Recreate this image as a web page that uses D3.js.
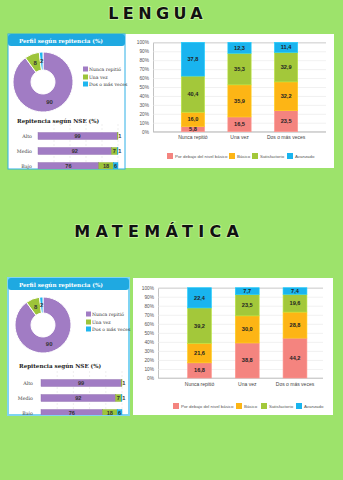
<!DOCTYPE html>
<html><head><meta charset="utf-8">
<script src="https://cdn.jsdelivr.net/npm/d3@7"></script>
<style>
html,body{margin:0;padding:0;background:#9de36b;}
svg{display:block;}
</style></head>
<body>
<svg id="chart" width="343" height="480"></svg>
<script>
// ---------- DATA ----------
const levelNames = ["Por debajo del nivel básico", "Básico", "Satisfactorio", "Avanzado"];
const levelColors = ["#f4847f", "#fdb515", "#a3c83a", "#19b4ef"];
const repCategories = ["Nunca repitió", "Una vez", "Dos o más veces"];
const perfilColors = ["#a17cc4", "#9dc43a", "#1fb6ef"];
const nseCategories = ["Alto", "Medio", "Bajo"];
const yTickValues = [0, 10, 20, 30, 40, 50, 60, 70, 80, 90, 100];

// Lengua
const lenguaPerfil = [90, 8, 2];
const lenguaNseNunca = [99, 92, 76];
const lenguaNseUna = [1, 7, 18];
const lenguaNseDos = [0, 1, 6];
const lenguaPorDebajo = [5.8, 16.5, 23.5];
const lenguaBasico = [16.0, 35.9, 32.2];
const lenguaSatisfactorio = [40.4, 35.3, 32.9];
const lenguaAvanzado = [37.8, 12.3, 11.4];

// Matemática
const matePerfil = [90, 8, 2];
const mateNseNunca = [99, 92, 76];
const mateNseUna = [1, 7, 18];
const mateNseDos = [0, 1, 6];
const matePorDebajo = [16.8, 38.8, 44.2];
const mateBasico = [21.6, 30.0, 28.8];
const mateSatisfactorio = [39.2, 23.5, 19.6];
const mateAvanzado = [22.4, 7.7, 7.4];

// ---------- LAYOUT ----------
const sections = [
  {
    title: "LENGUA", tx: 155.5, ty: 19, tsize: 16, ls: 4.4,
    L: {x: 8, y: 34, w: 117, h: 135, hh: 12, border: "#2fb0e6", bw: 1},
    donut: {cx: 43, cy: 82, r0: 12, r1: 30},
    plx: 83, ply: [69, 77, 84], pltx: 89,
    nseT: {x: 17, y: 123},
    hb: {x0: 38, x1: 118, rows: [136, 151, 166], h: 7, lx: 32},
    R: {x: 125, y: 34, w: 209, h: 134},
    st: {top: 42.3, bot: 131.7, ax: 153, xr: [158, 321], gEnd: 326, xl: 137, ly: 156, lx: [167, 229, 252, 287]},
    perfil: lenguaPerfil,
    nse: [lenguaNseNunca, lenguaNseUna, lenguaNseDos],
    levels: [lenguaPorDebajo, lenguaBasico, lenguaSatisfactorio, lenguaAvanzado]
  },
  {
    title: "MATEMÁTICA", tx: 156.5, ty: 237, tsize: 16, ls: 5.3,
    L: {x: 8, y: 278, w: 121, h: 137, hh: 12, border: "#7fd4f2", bw: 2},
    donut: {cx: 43, cy: 325, r0: 12, r1: 28},
    plx: 86, ply: [314, 322, 329], pltx: 92,
    nseT: {x: 19, y: 368},
    hb: {x0: 41, x1: 122, rows: [383, 398, 413], h: 7, lx: 33},
    R: {x: 133, y: 278, w: 200, h: 137},
    st: {top: 287.7, bot: 378, ax: 158, xr: [163.7, 330.8], gEnd: 323, xl: 384, ly: 406, lx: [173, 236, 261, 296]},
    perfil: matePerfil,
    nse: [mateNseNunca, mateNseUna, mateNseDos],
    levels: [matePorDebajo, mateBasico, mateSatisfactorio, mateAvanzado]
  }
];

const svg = d3.select("#chart");
svg.append("rect").attr("width", 343).attr("height", 480).attr("fill", "#9de36b");
const fmt = v => d3.format(".1f")(v).replace(".", ",");
const FONT = "Liberation Sans, Arial, sans-serif";

sections.forEach((s, si) => {
  const g = svg.append("g");
  // Title
  g.append("text").attr("x", s.tx + s.ls / 2).attr("y", s.ty).attr("text-anchor", "middle")
    .attr("font-family", "DejaVu Sans, sans-serif").attr("font-weight", "bold")
    .attr("font-size", s.tsize).attr("letter-spacing", s.ls)
    .attr("fill", "#111").attr("stroke", "#c8f5a0").attr("stroke-width", 1.6)
    .attr("paint-order", "stroke").text(s.title);

  // Right panel
  g.append("rect").attr("x", s.R.x).attr("y", s.R.y).attr("width", s.R.w).attr("height", s.R.h).attr("fill", "#fff");

  // Left panel
  const L = s.L;
  const clipId = "clip" + si;
  svg.append("defs").append("clipPath").attr("id", clipId)
    .append("rect").attr("x", L.x).attr("y", L.y).attr("width", L.w).attr("height", L.h);
  g.append("rect").attr("x", L.x).attr("y", L.y).attr("width", L.w).attr("height", L.h)
    .attr("fill", "#fff").attr("stroke", L.border).attr("stroke-width", L.bw);
  g.append("rect").attr("x", L.x).attr("y", L.y).attr("width", L.w).attr("height", L.hh)
    .attr("rx", 3).attr("fill", "#1fa9e1");
  g.append("text").attr("x", L.x + 11).attr("y", L.y + 8.5).attr("font-family", "DejaVu Serif, serif")
    .attr("font-weight", "bold").attr("font-size", 5.6).attr("fill", "#fff").text("Perfil según repitencia (%)");

  // Donut
  const pie = d3.pie().sort(null).value(d => d)(s.perfil);
  const arc = d3.arc().innerRadius(s.donut.r0).outerRadius(s.donut.r1);
  const dg = g.append("g").attr("transform", `translate(${s.donut.cx},${s.donut.cy})`);
  dg.selectAll("path").data(pie).join("path").attr("d", arc)
    .attr("fill", (d, i) => perfilColors[i]).attr("stroke", "#fff").attr("stroke-width", 1);
  dg.selectAll("text").data(pie).join("text")
    .attr("transform", d => `translate(${arc.centroid(d)})`)
    .attr("text-anchor", "middle").attr("dy", "0.35em")
    .attr("font-family", FONT).attr("font-weight", "bold").attr("font-size", 6).attr("fill", "#333")
    .text(d => d.data);

  // Donut legend
  repCategories.forEach((c, i) => {
    g.append("rect").attr("x", s.plx).attr("y", s.ply[i] - 2.5).attr("width", 5).attr("height", 5).attr("fill", perfilColors[i]);
    g.append("text").attr("x", s.pltx).attr("y", s.ply[i] + 1.8).attr("font-family", "DejaVu Serif, serif")
      .attr("font-size", 4.6).attr("fill", "#333").text(c);
  });

  // NSE title
  g.append("text").attr("x", s.nseT.x).attr("y", s.nseT.y).attr("font-family", "DejaVu Serif, serif")
    .attr("font-weight", "bold").attr("font-size", 5.6).attr("fill", "#222").text("Repitencia según NSE (%)");

  // Horizontal stacked bars
  const hb = s.hb;
  const hx = d3.scaleLinear().domain([0, 100]).range([hb.x0, hb.x1]);
  const hg = g.append("g").attr("clip-path", `url(#${clipId})`);
  hg.selectAll("line.grid").data([20, 40, 60, 80, 100]).join("line")
    .attr("x1", d => hx(d)).attr("x2", d => hx(d))
    .attr("y1", hb.rows[0] - 12).attr("y2", L.y + L.h)
    .attr("stroke", "#e4e4e4").attr("stroke-width", 0.6).attr("stroke-dasharray", "2,2");
  nseCategories.forEach((c, r) => {
    let acc = 0;
    s.nse.forEach((arr, k) => {
      const v = arr[r];
      const x0 = hx(acc), x1 = hx(acc + v);
      acc += v;
      if (v <= 0) return;
      hg.append("rect").attr("x", x0).attr("y", hb.rows[r] - hb.h / 2)
        .attr("width", x1 - x0).attr("height", hb.h).attr("fill", perfilColors[k])
        .attr("stroke", d3.color(perfilColors[k]).darker(0.4)).attr("stroke-width", 0.4);
      hg.append("text").attr("x", v < 3 ? x1 + 0.3 : (x0 + x1) / 2).attr("y", hb.rows[r] + 2)
        .attr("text-anchor", v < 3 ? "start" : "middle")
        .attr("font-family", FONT).attr("font-weight", "bold").attr("font-size", 5.6).attr("fill", "#333")
        .text(v);
    });
    hg.append("text").attr("x", hb.lx).attr("y", hb.rows[r] + 2).attr("text-anchor", "end")
      .attr("font-family", "DejaVu Serif, serif").attr("font-size", 4.8).attr("fill", "#444").text(c);
  });

  // Stacked vertical chart
  const st = s.st;
  const y = d3.scaleLinear().domain([0, 100]).range([st.bot, st.top]);
  const x = d3.scaleBand().domain(repCategories).range(st.xr).padding(0.5);
  const yAxis = d3.axisLeft(y).tickValues(yTickValues).tickFormat(d => d + "%")
    .tickSize(-(st.gEnd - st.ax)).tickPadding(4);
  const ya = g.append("g").attr("transform", `translate(${st.ax},0)`).call(yAxis);
  ya.select(".domain").attr("stroke", "#999").attr("stroke-width", 0.6);
  ya.selectAll(".tick line").attr("stroke", "#e8e8e8").attr("stroke-width", 0.6);
  ya.selectAll(".tick text").attr("font-family", FONT).attr("font-size", 4.8).attr("fill", "#555");
  g.append("line").attr("x1", st.ax).attr("x2", st.gEnd).attr("y1", st.bot).attr("y2", st.bot)
    .attr("stroke", "#bbb").attr("stroke-width", 0.6);

  repCategories.forEach((c, ci) => {
    let acc = 0;
    s.levels.forEach((arr, k) => {
      const v = arr[ci];
      const y0 = y(acc), y1 = y(acc + v);
      acc += v;
      g.append("rect").attr("x", x(c)).attr("y", y1).attr("width", x.bandwidth()).attr("height", y0 - y1)
        .attr("fill", levelColors[k]).attr("stroke", d3.color(levelColors[k]).brighter(0.4)).attr("stroke-width", 0.6);
      g.append("text").attr("x", x(c) + x.bandwidth() / 2).attr("y", (y0 + y1) / 2 + 2)
        .attr("text-anchor", "middle").attr("font-family", FONT).attr("font-weight", "bold")
        .attr("font-size", 5.6).attr("fill", "#222").text(fmt(v));
    });
  });
  const xa = g.append("g").attr("transform", `translate(0,${st.bot})`)
    .call(d3.axisBottom(x).tickSize(0).tickPadding(4));
  xa.select(".domain").remove();
  xa.selectAll(".tick text").attr("font-family", FONT).attr("font-size", 5).attr("fill", "#444");

  // Legend
  levelNames.forEach((n, k) => {
    g.append("rect").attr("x", st.lx[k]).attr("y", st.ly - 3).attr("width", 6).attr("height", 6).attr("fill", levelColors[k]);
    g.append("text").attr("x", st.lx[k] + 8).attr("y", st.ly + 1.7).attr("font-family", FONT)
      .attr("font-size", 4.4).attr("fill", "#555").text(n);
  });
});
</script>
</body></html>
